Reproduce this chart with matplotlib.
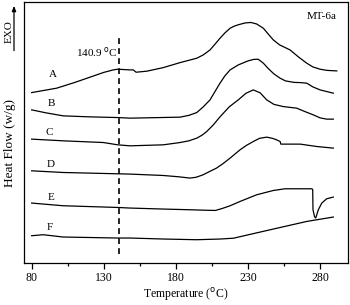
import matplotlib
matplotlib.use("Agg")
import matplotlib.pyplot as plt

plt.rcParams['font.family'] = ['Liberation Serif', 'DejaVu Serif']

# temperature (C) and heat flow (arbitrary, offset) for each curve
t_a = [80, 97.3, 110, 120, 130, 136.6, 139.7, 148.2, 150.5, 152.4, 159.8, 171.3, 182.9, 194.5,
       199, 203.7, 207, 210.6, 214, 217.6, 220.5, 223.3, 228, 232, 236, 240.7, 244, 247.6,
       252, 259.2, 265, 270.8, 275, 280, 285, 291.6]
hf_a = [17.03, 17.47, 18.05, 18.55, 19.05, 19.3, 19.37, 19.3, 19.3, 19.07, 19.17, 19.53, 20.03, 20.47,
        20.8, 21.3, 21.85, 22.47, 23.0, 23.47, 23.68, 23.82, 24.0, 24.05, 23.9, 23.47, 22.9, 22.3,
        21.8, 21.3, 20.6, 19.97, 19.6, 19.37, 19.25, 19.2]

t_b = [80, 90, 101.9, 120, 139.7, 148.2, 182.9, 189, 194.5, 199, 203.7, 207, 210.6, 214, 217.6,
       223.3, 230, 234, 237.1, 240.7, 244, 248, 252.3, 256, 262, 266.3, 270.8, 275, 280, 289.2]
hf_b = [15.3, 15.0, 14.7, 14.6, 14.53, 14.47, 14.57, 14.75, 15.03, 15.6, 16.3, 17.1, 17.97, 18.7, 19.3,
        19.8, 20.2, 20.35, 20.37, 19.97, 19.45, 18.9, 18.47, 18.2, 18.05, 18.03, 17.97, 17.6, 17.3, 16.97]

t_c = [80, 101.9, 129.7, 139.7, 148.2, 171.3, 182.9, 189, 194.5, 198, 201.4, 206, 210.6, 217,
       223.3, 228.5, 233.7, 238.5, 243, 248, 254.5, 263.8, 270, 275.3, 280, 284.6, 289.2]
hf_c = [12.37, 12.2, 12.03, 11.8, 11.7, 11.8, 12.03, 12.2, 12.47, 12.75, 13.13, 13.8, 14.6, 15.6,
        16.3, 16.95, 17.3, 17.0, 16.3, 15.85, 15.63, 15.47, 15.1, 14.8, 14.5, 14.37, 14.37]

t_d = [80, 101.9, 139.7, 148.2, 171.3, 182, 189.8, 194, 198.9, 203, 208.2, 213, 217.6, 224.5,
       229, 233.7, 238, 243, 247, 249.9, 252.3, 252.8, 258, 266.3, 277.8, 289.2]
hf_d = [9.2, 9.03, 8.9, 8.87, 8.73, 8.6, 8.47, 8.55, 8.8, 9.1, 9.47, 9.95, 10.47, 11.3,
        11.75, 12.13, 12.45, 12.57, 12.45, 12.3, 12.13, 11.87, 11.87, 11.87, 11.63, 11.47]

t_e = [80, 101.9, 139.7, 148.2, 171.3, 189.8, 201, 207.4, 212, 217.6, 224.5, 236.1,
       247.6, 255.7, 265, 274.4, 274.9, 275.1, 276.2, 277.0, 278.8, 281.2, 284.6, 289.2]
hf_e = [5.97, 5.7, 5.53, 5.47, 5.37, 5.3, 5.25, 5.23, 5.42, 5.7, 6.13, 6.8,
        7.23, 7.4, 7.4, 7.4, 7.3, 5.3, 4.6, 4.47, 5.3, 5.97, 6.4, 6.57]

t_f = [80, 84, 88, 101.9, 139.7, 148.2, 171.3, 194.5, 210.6, 219.9, 247.6, 270.8, 289.2]
hf_f = [2.7, 2.75, 2.8, 2.57, 2.47, 2.47, 2.37, 2.3, 2.37, 2.45, 3.37, 4.13, 4.57]

curves = [(t_a, hf_a), (t_b, hf_b), (t_c, hf_c), (t_d, hf_d), (t_e, hf_e), (t_f, hf_f)]
labels = ["A", "B", "C", "D", "E", "F"]
label_t = [94.6, 93.4, 92.2, 93.4, 93.2, 92.7]
label_hf = [18.8, 15.9, 13.0, 9.87, 6.53, 3.53]

tg = 140.9
major_ticks = [80, 130, 180, 230, 280]
minor_ticks = [105, 155, 205, 255]

fig = plt.figure(figsize=(3.5, 3.05), dpi=100)
ax = fig.add_axes([0.0686, 0.1387, 0.9266, 0.8548])

for (t, hf) in curves:
    ax.plot(t, hf, color="black", linewidth=0.9)

for lab, x, y in zip(labels, label_t, label_hf):
    ax.text(x, y, lab, fontsize=8, ha="center", va="center")

ax.plot([tg, tg], [0.9, 22.8], color="black", linewidth=1.2, linestyle=(0, (3.5, 2.5)))
ax.text(tg - 1.5, 21.1, "140.9 $^{\\rm o}$C", fontsize=8, ha="right", va="center")
ax.text(0.965, 0.945, "MT-6a", fontsize=8, ha="right", va="center", transform=ax.transAxes)

ax.set_xlim(74.7, 299.6)
ax.set_ylim(0, 26.1)
ax.set_xticks(major_ticks)
ax.set_xticks(minor_ticks, minor=True)
ax.set_yticks([])
ax.tick_params(axis="x", which="major", direction="out", length=4, width=0.9, labelsize=8.5, pad=3)
ax.tick_params(axis="x", which="minor", direction="out", length=2.5, width=0.9)
for s in ax.spines.values():
    s.set_linewidth(0.9)

ax.set_xlabel("Temperature ($^{\\rm o}$C)", fontsize=8.5, labelpad=1)
fig.text(0.028, 0.53, "Heat Flow (w/g)", rotation=90, fontsize=9.5, ha="center", va="center")
fig.text(0.026, 0.895, "EXO", rotation=90, fontsize=8, ha="center", va="center")
fig.add_artist(matplotlib.patches.FancyArrowPatch((0.04, 0.825), (0.04, 0.99),
               transform=fig.transFigure, arrowstyle="-|>,head_length=3,head_width=1.2",
               color="black", linewidth=0.9))

fig.savefig("out.png", dpi=100)
